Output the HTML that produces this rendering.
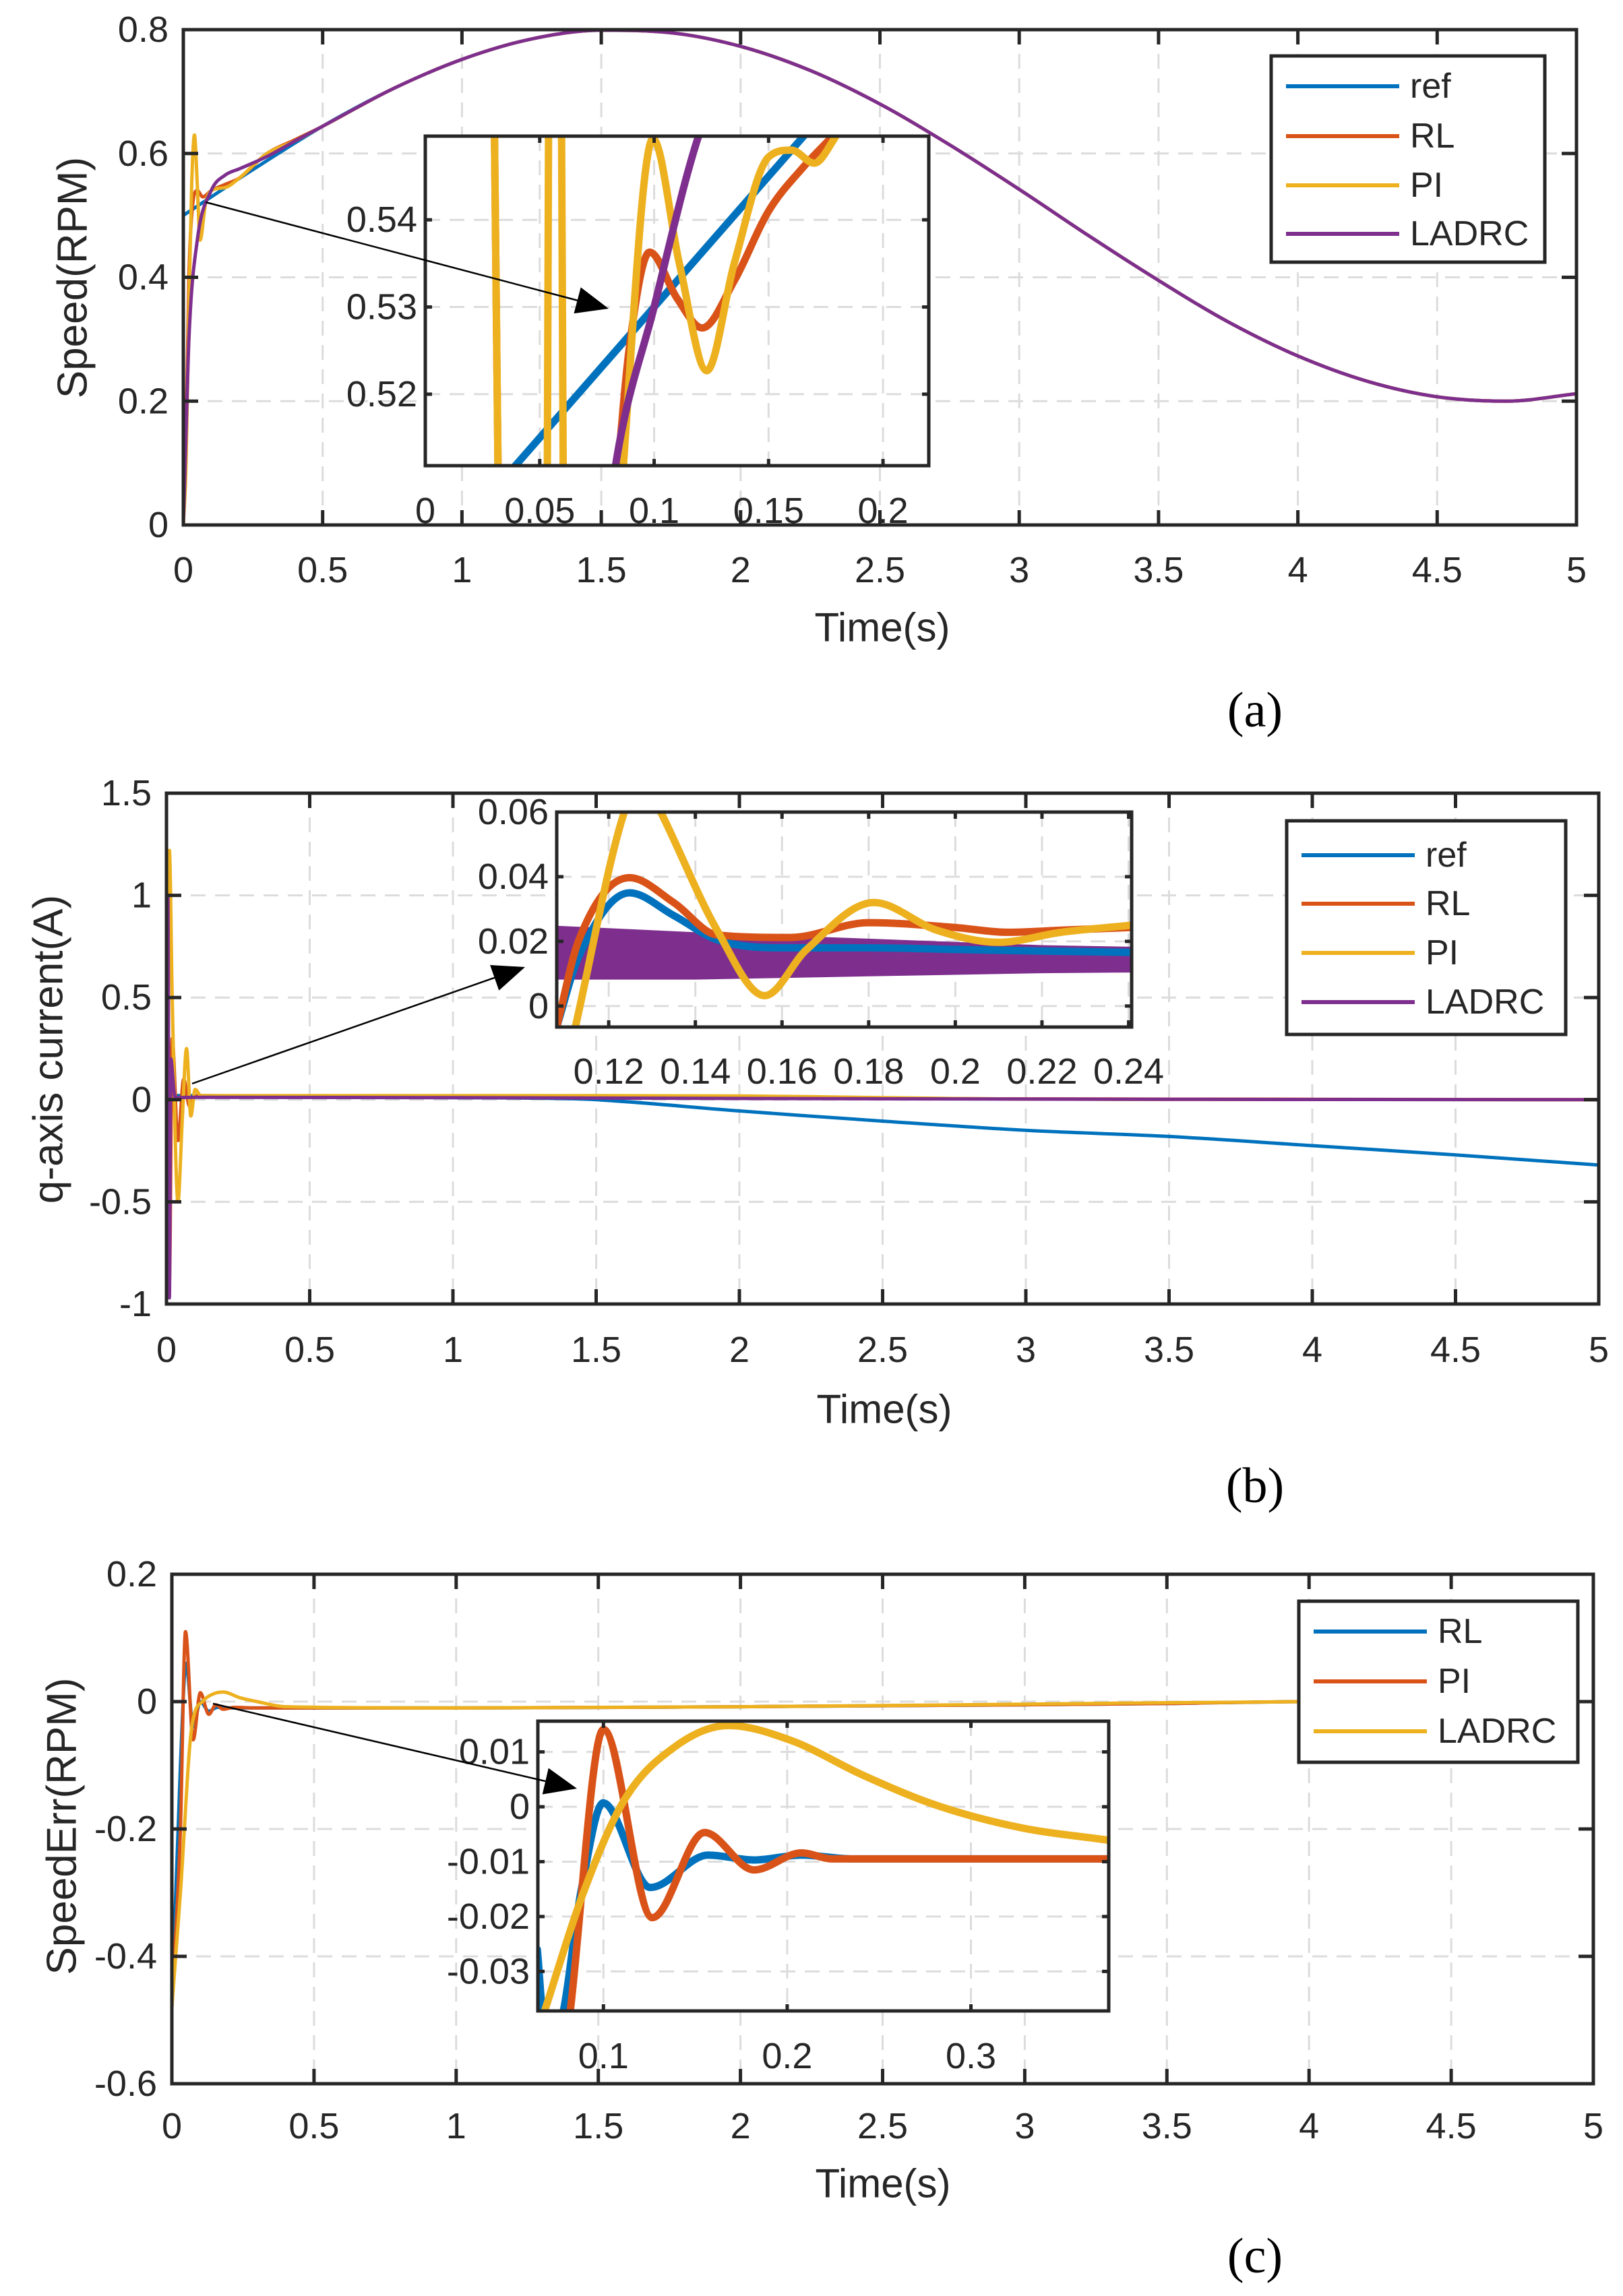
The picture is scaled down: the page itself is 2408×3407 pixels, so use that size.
<!DOCTYPE html>
<html><head><meta charset="utf-8"><style>
html,body{margin:0;padding:0;background:#fff;}
svg{display:block;font-family:"Liberation Sans",Arial,sans-serif;}
</style></head><body>
<svg id="fig" width="2408" height="3407" viewBox="0 0 2408 3407" xmlns="http://www.w3.org/2000/svg"></svg>
<script>
// ===== Panel (a) data =====
const aRefT = [0,0.25,0.5,0.75,1,1.25,1.5,1.75,2,2.25,2.5,2.75,3,3.25,3.5,3.75,4,4.25,4.5,4.75,5];
const aRefV = [0.5,0.574,0.644,0.704,0.752,0.785,0.799,0.795,0.773,0.734,0.680,0.614,0.542,0.467,0.395,0.328,0.273,0.232,0.207,0.200,0.212];
const aRLT = [0,0.01,0.02,0.03,0.05,0.07,0.1,0.15,0.2,0.3,0.4,0.5];
const aRLV = [0,0.15,0.4,0.5,0.54,0.53,0.54,0.55,0.56,0.6,0.622,0.644];
const aPIT = [0,0.01,0.02,0.03,0.04,0.05,0.06,0.08,0.1,0.15,0.2,0.3,0.4,0.5];
const aPIV = [0,0.1,0.35,0.55,0.63,0.55,0.46,0.52,0.54,0.545,0.56,0.6,0.62,0.644];
const aLADT = [0,0.01,0.02,0.05,0.1,0.15,0.2,0.3,0.4,0.5];
const aLADV = [0,0.15,0.3,0.46,0.54,0.565,0.575,0.595,0.62,0.644];
const aInRefT = [0,0.05,0.1,0.15,0.2];
const aInRefV = [0.5,0.515,0.530,0.545,0.560];
const aInRLT = [0.028,0.036,0.080,0.089,0.098,0.110,0.121,0.135,0.150,0.165,0.178,0.19];
const aInRLV = [0.60,0.45,0.50,0.525,0.5363,0.531,0.5276,0.533,0.541,0.546,0.5496,0.553];
const aInPIT = [0.028,0.036,0.052,0.055,0.058,0.062,0.083,0.0995,0.111,0.123,0.135,0.150,0.160,0.170,0.178,0.19];
const aInPIV = [0.60,0.45,0.45,0.60,0.60,0.45,0.50,0.5493,0.535,0.5227,0.535,0.5472,0.548,0.5465,0.549,0.555];
const aInLADT = [0.080,0.083,0.100,0.119,0.125];
const aInLADV = [0.505,0.5116,0.530,0.5493,0.553];
const aXTicks = [0,0.5,1,1.5,2,2.5,3,3.5,4,4.5,5];
const aXLabels = ["0","0.5","1","1.5","2","2.5","3","3.5","4","4.5","5"];
const aYTicks = [0,0.2,0.4,0.6,0.8];
const aYLabels = ["0","0.2","0.4","0.6","0.8"];
const aInXTicks = [0,0.05,0.1,0.15,0.2];
const aInXLabels = ["0","0.05","0.1","0.15","0.2"];
const aInYTicks = [0.52,0.53,0.54];
const aInYLabels = ["0.52","0.53","0.54"];

// ===== Panel (b) data =====
const bRefT = [0,0.004,0.008,0.012,0.02,0.1,0.5,1,1.4,1.5,2,2.5,3,3.5,4,4.5,5];
const bRefV = [0,0.9,-0.8,0.02,0.02,0.02,0.015,0.01,0.005,0,-0.055,-0.105,-0.15,-0.18,-0.225,-0.27,-0.32];
const bRLT = [0,0.005,0.01,0.02,0.04,0.06,0.08,0.1,0.5,1,2,3,4,5];
const bRLV = [0,1.0,-0.9,0.3,-0.2,0.1,-0.03,0.02,0.015,0.012,0.008,0.004,0.002,0];
const bPIT = [0,0.01,0.02,0.04,0.055,0.07,0.085,0.1,0.12,0.2,1,2,2.5,3,4,5];
const bPIV = [0,1.22,0.5,-0.5,-0.1,0.25,-0.08,0.05,0.02,0.02,0.02,0.018,0.01,0.003,0.001,0];
const bLADT = [0,0.005,0.01,0.015,0.03,0.1,1,2,3,4,5];
const bLADV = [0,1.0,-0.97,0.2,0.01,0.012,0.01,0.006,0.003,0.001,0];
const bInRefT = [0.108,0.113,0.1248,0.135,0.145,0.16,0.18,0.2,0.22,0.2407];
const bInRefV = [-0.0065,0.015,0.035,0.028,0.0205,0.018,0.018,0.0175,0.017,0.0166];
const bInRLT = [0.108,0.113,0.1248,0.135,0.145,0.162,0.18,0.2,0.212,0.225,0.2407];
const bInRLV = [-0.0065,0.02,0.0397,0.032,0.022,0.0212,0.0258,0.0243,0.0228,0.0235,0.0243];
const bInPIT = [0.1123,0.1236,0.128,0.132,0.145,0.156,0.1656,0.1812,0.1956,0.21,0.2244,0.2407];
const bInPIV = [-0.0065,0.06,0.07,0.06,0.0235,0.0032,0.0174,0.032,0.0235,0.0197,0.0228,0.025];
const bInLADT = [0.108,0.14,0.16,0.18,0.2,0.22,0.2407];
const bInLADUp = [0.024,0.022,0.021,0.02,0.019,0.018,0.0175];
const bInLADLo = [0.009,0.009,0.0095,0.01,0.0105,0.011,0.0112];
const bXTicks = [0,0.5,1,1.5,2,2.5,3,3.5,4,4.5,5];
const bXLabels = ["0","0.5","1","1.5","2","2.5","3","3.5","4","4.5","5"];
const bYTicks = [-1,-0.5,0,0.5,1,1.5];
const bYLabels = ["-1","-0.5","0","0.5","1","1.5"];
const bInXTicks = [0.12,0.14,0.16,0.18,0.2,0.22,0.24];
const bInXLabels = ["0.12","0.14","0.16","0.18","0.2","0.22","0.24"];
const bInYTicks = [0,0.02,0.04,0.06];
const bInYLabels = ["0","0.02","0.04","0.06"];

// ===== Panel (c) data =====
const cRLT = [0,0.03,0.05,0.075,0.1,0.13,0.16,0.2,0.3,1,2,3,3.5,4,5];
const cRLV = [-0.48,-0.1,0.06,-0.04,0.0,-0.015,-0.009,-0.01,-0.01,-0.01,-0.008,-0.005,-0.003,0,0];
const cPIT = [0,0.03,0.048,0.075,0.1,0.13,0.155,0.18,0.22,0.3,1,2,3,3.5,4,5];
const cPIV = [-0.48,-0.2,0.11,-0.06,0.014,-0.02,-0.005,-0.012,-0.009,-0.01,-0.01,-0.008,-0.005,-0.003,0,0];
const cLADT = [0,0.03,0.07,0.11,0.14,0.18,0.24,0.3,0.4,1,2,3,4,5];
const cLADV = [-0.48,-0.3,-0.04,0.001,0.011,0.015,0.006,0,-0.008,-0.01,-0.008,-0.004,0,0];
const cInRLT = [0.064,0.068,0.075,0.088,0.0998,0.1255,0.157,0.182,0.2077,0.236,0.3,0.375];
const cInRLV = [-0.026,-0.04,-0.04,-0.015,0.0007,-0.0147,-0.0088,-0.0097,-0.0088,-0.0095,-0.0095,-0.0095];
const cInPIT = [0.082,0.1,0.1266,0.155,0.182,0.2077,0.2246,0.3,0.375];
const cInPIV = [-0.037,0.0141,-0.0202,-0.0047,-0.0115,-0.0084,-0.0095,-0.0095,-0.0095];
const cInLADT = [0.0677,0.0887,0.1113,0.14,0.168,0.202,0.2416,0.281,0.327,0.375];
const cInLADV = [-0.0375,-0.016,0.0012,0.0112,0.0148,0.0121,0.0057,0.0003,-0.0038,-0.0061];
const cXTicks = [0,0.5,1,1.5,2,2.5,3,3.5,4,4.5,5];
const cXLabels = ["0","0.5","1","1.5","2","2.5","3","3.5","4","4.5","5"];
const cYTicks = [-0.6,-0.4,-0.2,0,0.2];
const cYLabels = ["-0.6","-0.4","-0.2","0","0.2"];
const cInXTicks = [0.1,0.2,0.3];
const cInXLabels = ["0.1","0.2","0.3"];
const cInYTicks = [-0.03,-0.02,-0.01,0,0.01];
const cInYLabels = ["-0.03","-0.02","-0.01","0","0.01"];

const BLUE="#0072BD", ORANGE="#D95319", YELLOW="#EDB120", PURPLE="#7E2F8E";
const NS="http://www.w3.org/2000/svg";
const svg=document.getElementById('fig');
let clipId=0;
function mk(tag,attrs,parent){const e=document.createElementNS(NS,tag);for(const k in attrs)e.setAttribute(k,attrs[k]);(parent||svg).appendChild(e);return e;}
function txt(s,x,y,size,anchor,parent,extra){const t=mk('text',Object.assign({x:x,y:y,'font-size':size,'text-anchor':anchor||'middle','dominant-baseline':'central',fill:'#262626'},extra||{}),parent);t.textContent=s;return t;}

// monotone-x cubic path (no overshoot)
function monoPath(P,move){
  const n=P.length;if(n<2)return '';
  const d=[],m=new Array(n);
  for(let i=0;i<n-1;i++){const dx=P[i+1][0]-P[i][0];d.push(dx===0?0:(P[i+1][1]-P[i][1])/dx);}
  m[0]=d[0];m[n-1]=d[n-2];
  for(let i=1;i<n-1;i++){m[i]=(d[i-1]*d[i]<=0)?0:(d[i-1]+d[i])/2;}
  for(let i=0;i<n-1;i++){if(d[i]===0){m[i]=0;m[i+1]=0;continue;}const a=m[i]/d[i],b=m[i+1]/d[i],s=a*a+b*b;if(s>9){const t=3/Math.sqrt(s);m[i]=t*a*d[i];m[i+1]=t*b*d[i];}}
  let s=(move?'M':'L')+P[0][0].toFixed(1)+','+P[0][1].toFixed(1);
  for(let i=0;i<n-1;i++){const h=(P[i+1][0]-P[i][0])/3;
    s+=` C${(P[i][0]+h).toFixed(1)},${(P[i][1]+m[i]*h).toFixed(1)} ${(P[i+1][0]-h).toFixed(1)},${(P[i+1][1]-m[i+1]*h).toFixed(1)} ${P[i+1][0].toFixed(1)},${P[i+1][1].toFixed(1)}`;}
  return s;
}

function axes(g,b,dom,xt,yt,grid){
  const sx=v=>b.x0+(v-dom.xmin)/(dom.xmax-dom.xmin)*(b.x1-b.x0);
  const sy=v=>b.y1-(v-dom.ymin)/(dom.ymax-dom.ymin)*(b.y1-b.y0);
  if(grid){
    xt.forEach(v=>{const x=sx(v);if(Math.abs(x-b.x0)>3&&Math.abs(x-b.x1)>3){const l=mk('line',{x1:x,y1:b.y0,x2:x,y2:b.y1,stroke:'#dcdcdc','stroke-width':3,'stroke-dasharray':'22 14'},g);}});
    yt.forEach(v=>{const y=sy(v);if(Math.abs(y-b.y0)>3&&Math.abs(y-b.y1)>3){const l=mk('line',{x1:b.x0,y1:y,x2:b.x1,y2:y,stroke:'#dcdcdc','stroke-width':3,'stroke-dasharray':'22 14'},g);}});
  }
  return {sx,sy};
}
function line(g,sx,sy,T,V,color,w,name){
  const P=T.map((t,i)=>[sx(t),sy(V[i])]);
  const p=mk('path',{d:monoPath(P,true),fill:'none',stroke:color,'stroke-width':w,'stroke-linejoin':'round','stroke-linecap':'round'},g);
  
  
}
function clipG(b,parent){
  const id='c'+(clipId++);
  const cp=mk('clipPath',{id:id},parent);mk('rect',{x:b.x0,y:b.y0,width:b.x1-b.x0,height:b.y1-b.y0},cp);
  return mk('g',{'clip-path':'url(#'+id+')'},parent);
}
function frame(g,b,sx,sy,xt,yt,tl,w){
  mk('rect',{x:b.x0,y:b.y0,width:b.x1-b.x0,height:b.y1-b.y0,fill:'none',stroke:'#262626','stroke-width':w},g);
  xt.forEach(v=>{const x=sx(v);mk('line',{x1:x,y1:b.y1,x2:x,y2:b.y1-tl,stroke:'#262626','stroke-width':w},g);mk('line',{x1:x,y1:b.y0,x2:x,y2:b.y0+tl,stroke:'#262626','stroke-width':w},g);});
  yt.forEach(v=>{const y=sy(v);mk('line',{x1:b.x0,y1:y,x2:b.x0+tl,y2:y,stroke:'#262626','stroke-width':w},g);mk('line',{x1:b.x1,y1:y,x2:b.x1-tl,y2:y,stroke:'#262626','stroke-width':w},g);});
}
function arrow(g,x1,y1,x2,y2){
  const a=Math.atan2(y2-y1,x2-x1),L=48,W=20;
  const bx=x2-L*Math.cos(a),by=y2-L*Math.sin(a);
  mk('line',{x1:x1,y1:y1,x2:bx,y2:by,stroke:'#000','stroke-width':2.5},g);
  mk('polygon',{points:`${x2},${y2} ${bx+W*Math.sin(a)},${by-W*Math.cos(a)} ${bx-W*Math.sin(a)},${by+W*Math.cos(a)}`,fill:'#000'},g);
}
function legend(g,b,entries,ys){
  mk('rect',{x:b.x0,y:b.y0,width:b.x1-b.x0,height:b.y1-b.y0,fill:'#fff',stroke:'#262626','stroke-width':5},g);
  entries.forEach((e,i)=>{
    const eg=mk('g',{},g);
    
    
    mk('line',{x1:b.x0+22,y1:ys[i],x2:b.x0+190,y2:ys[i],stroke:e[1],'stroke-width':6},eg);
    txt(e[0],b.x0+206,ys[i],52,'start',eg);
  });
}

function panel(P){
  const g=mk('g',{});
  const {sx,sy}=axes(g,P.b,P.dom,P.xt,P.yt,true);
  const cg=clipG(P.b,g);
  P.series.forEach(s=>line(cg,sx,sy,s[0],s[1],s[2],5,s[3]));
  frame(g,P.b,sx,sy,P.xt,P.yt,22,5);
  P.xt.forEach((v,i)=>{const t=txt(P.xl[i],sx(v),P.xlY,54,'middle',g);});
  P.yt.forEach((v,i)=>{const t=txt(P.yl[i],P.b.x0-22,sy(v),54,'end',g);});
  const xtit=txt('Time(s)',P.xTitle[0],P.xTitle[1],60,'middle',g);
  const ytit=txt(P.yTitle[2],P.yTitle[0],P.yTitle[1],62,'middle',g,{transform:`rotate(-90 ${P.yTitle[0]} ${P.yTitle[1]})`});
  const I=P.inset;
  const ig=mk('g',{},g);
  mk('rect',{x:I.b.x0,y:I.b.y0,width:I.b.x1-I.b.x0,height:I.b.y1-I.b.y0,fill:'#fff'},ig);
  const s2=axes(ig,I.b,I.dom,I.xt,I.yt,true);
  const icg=clipG(I.b,ig);
  if(I.band){const B=I.band;const up=B[0].map((t,i)=>[s2.sx(t),s2.sy(B[1][i])]);const lo=B[0].map((t,i)=>[s2.sx(t),s2.sy(B[2][i])]).reverse();
    const lo2=lo.map(p=>[p[0],p[1]]);
    const bp=mk('polygon',{points:up.concat(lo2).map(p=>p[0].toFixed(1)+','+p[1].toFixed(1)).join(' '),fill:B[3],stroke:B[3],'stroke-width':8},icg);}
  I.series.forEach(s=>line(icg,s2.sx,s2.sy,s[0],s[1],s[2],11,s[3]));
  frame(ig,I.b,s2.sx,s2.sy,I.xt,I.yt,10,5);
  I.xt.forEach((v,i)=>{const t=txt(I.xl[i],s2.sx(v),I.xlY,54,'middle',ig);});
  I.yt.forEach((v,i)=>{const t=txt(I.yl[i],I.b.x0-12,s2.sy(v),54,'end',ig);});
  const ag=mk('g',{},g);
  arrow(ag,P.arrow[0],P.arrow[1],P.arrow[2],P.arrow[3]);
  const lg=mk('g',{},g);
  legend(lg,P.leg.b,P.leg.e,P.leg.ys);
  const cap=txt(P.cap[0],P.cap[1],P.cap[2],74,'middle',g,{'font-family':'"Liberation Serif",serif',fill:'#000'});
}

panel({name:'panel-a-speed',b:{x0:272,x1:2339,y0:44,y1:779},dom:{xmin:0,xmax:5,ymin:0,ymax:0.8},
  xt:aXTicks,xl:aXLabels,yt:aYTicks,yl:aYLabels,xlY:846,xTitle:[1309,931],yTitle:[108,412,'Speed(RPM)'],
  series:[[aRefT,aRefV,BLUE,'ref-line'],[aRLT.concat(aRefT.slice(3)),aRLV.concat(aRefV.slice(3)),ORANGE,'rl-line'],[aPIT.concat(aRefT.slice(3)),aPIV.concat(aRefV.slice(3)),YELLOW,'pi-line'],[aLADT.concat(aRefT.slice(3)),aLADV.concat(aRefV.slice(3)),PURPLE,'ladrc-line']],
  inset:{b:{x0:631,x1:1378,y0:202,y1:691},dom:{xmin:0,xmax:0.22,ymin:0.5118,ymax:0.5496},xt:aInXTicks,xl:aInXLabels,yt:aInYTicks,yl:aInYLabels,xlY:758,
    series:[[aInRefT,aInRefV,BLUE,'inset-ref-line'],[aInRLT,aInRLV,ORANGE,'inset-rl-line'],[aInPIT,aInPIV,YELLOW,'inset-pi-line'],[aInLADT,aInLADV,PURPLE,'inset-ladrc-line']]},
  arrow:[305,300,903,458],
  leg:{b:{x0:1886,x1:2292,y0:83,y1:389},e:[['ref',BLUE],['RL',ORANGE],['PI',YELLOW],['LADRC',PURPLE]],ys:[128,202,275,347]},
  cap:['(a)',1862,1054]});

panel({name:'panel-b-current',b:{x0:247,x1:2372,y0:1177,y1:1935},dom:{xmin:0,xmax:5,ymin:-1,ymax:1.5},
  xt:bXTicks,xl:bXLabels,yt:bYTicks,yl:bYLabels,xlY:2003,xTitle:[1312,2091],yTitle:[72,1557,'q-axis current(A)'],
  series:[[bRefT,bRefV,BLUE,'ref-line'],[bRLT,bRLV,ORANGE,'rl-line'],[bPIT,bPIV,YELLOW,'pi-line'],[bLADT,bLADV,PURPLE,'ladrc-line']],
  inset:{b:{x0:826,x1:1679,y0:1205,y1:1524},dom:{xmin:0.108,xmax:0.2407,ymin:-0.0065,ymax:0.06},xt:bInXTicks,xl:bInXLabels,yt:bInYTicks,yl:bInYLabels,xlY:1590,
    band:[bInLADT,bInLADUp,bInLADLo,PURPLE],
    series:[[bInRefT,bInRefV,BLUE,'inset-ref-line'],[bInRLT,bInRLV,ORANGE,'inset-rl-line'],[bInPIT,bInPIV,YELLOW,'inset-pi-line']]},
  arrow:[285,1608,779,1435],
  leg:{b:{x0:1909,x1:2323,y0:1218,y1:1535},e:[['ref',BLUE],['RL',ORANGE],['PI',YELLOW],['LADRC',PURPLE]],ys:[1269,1341,1414,1487]},
  cap:['(b)',1862,2205]});

panel({name:'panel-c-speed-error',b:{x0:255,x1:2364,y0:2336,y1:3092},dom:{xmin:0,xmax:5,ymin:-0.6,ymax:0.2},
  xt:cXTicks,xl:cXLabels,yt:cYTicks,yl:cYLabels,xlY:3155,xTitle:[1310,3240],yTitle:[92,2710,'SpeedErr(RPM)'],
  series:[[cRLT,cRLV,BLUE,'rl-line'],[cPIT,cPIV,ORANGE,'pi-line'],[cLADT,cLADV,YELLOW,'ladrc-line']],
  inset:{b:{x0:798,x1:1645,y0:2554,y1:2984},dom:{xmin:0.0643,xmax:0.375,ymin:-0.0372,ymax:0.0156},xt:cInXTicks,xl:cInXLabels,yt:cInYTicks,yl:cInYLabels,xlY:3051,
    series:[[cInRLT,cInRLV,BLUE,'inset-rl-line'],[cInPIT,cInPIV,ORANGE,'inset-pi-line'],[cInLADT,cInLADV,YELLOW,'inset-ladrc-line']]},
  arrow:[316,2528,856,2654],
  leg:{b:{x0:1927,x1:2341,y0:2376,y1:2615},e:[['RL',BLUE],['PI',ORANGE],['LADRC',YELLOW]],ys:[2421,2495,2569]},
  cap:['(c)',1862,3348]});
</script>
</body></html>
